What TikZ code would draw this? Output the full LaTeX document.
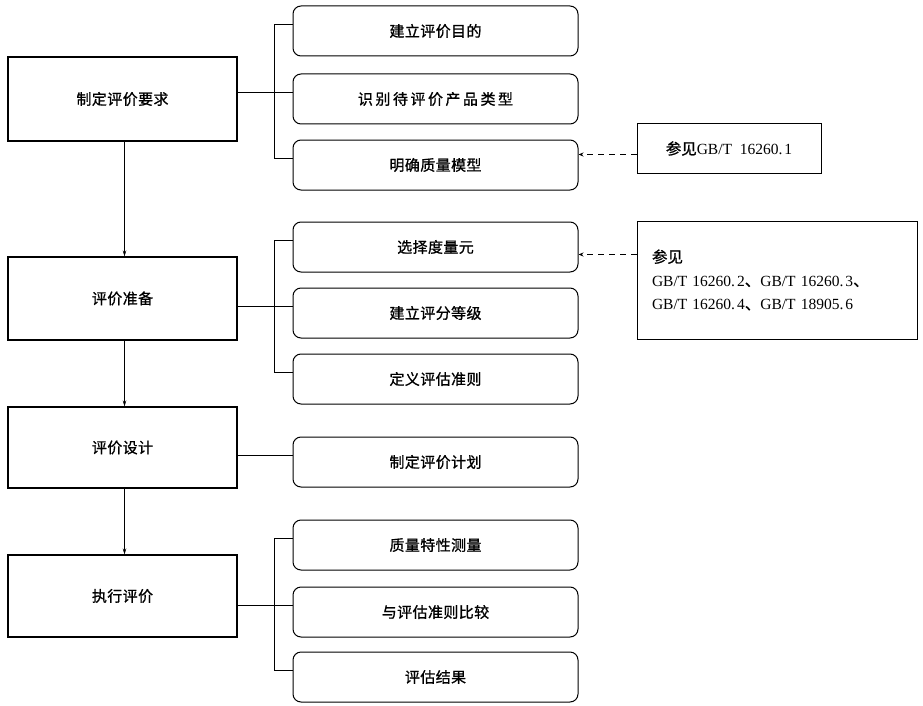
\documentclass[tikz,border=0pt]{standalone}
\usepackage{fontspec}
\setmainfont{Liberation Serif}[WordSpace=2]
\newfontfamily\cjk{Noto Sans CJK SC}[LetterSpace=2.7,FakeBold=1]
\newfontfamily\cjkwide{Noto Sans CJK SC}[LetterSpace=16.7,FakeBold=1]
\newfontfamily\cjkref{Noto Sans CJK SC}[FakeBold=1]
\usetikzlibrary{arrows.meta}
\begin{document}
\begin{tikzpicture}[x=1pt,y=-1pt,
  stage/.style={draw,line width=1.1pt,minimum width=229pt,inner sep=0pt,font=\cjk\fontsize{15}{18}\selectfont},
  task/.style={draw,line width=1pt,rounded corners=8pt,minimum width=285pt,minimum height=50pt,inner sep=0pt,font=\cjk\fontsize{15}{18}\selectfont},
  refbox/.style={draw,line width=1pt,inner sep=0pt,font=\fontsize{15.5}{23.5}\selectfont},
  link/.style={line width=0.9pt},
  flow/.style={line width=0.7pt,-{Stealth[length=6pt,width=3.5pt]}},
  refarr/.style={line width=0.9pt,dash pattern=on 6pt off 5pt,-{Stealth[length=5pt,width=4pt]}}]
\useasboundingbox (0,0) rectangle (923,706);

% stages
\node[stage,minimum height=84pt] (L1) at (122.5,99) {制定评价要求};
\node[stage,minimum height=83pt] (L2) at (122.5,298.5) {评价准备};
\node[stage,minimum height=81pt] (L3) at (122.5,447.5) {评价设计};
\node[stage,minimum height=82pt] (L4) at (122.5,596) {执行评价};

% tasks
\node[task] (R1) at (435.5,31) {建立评价目的};
\node[task,font=\cjkwide\fontsize{15}{18}\selectfont] (R2) at (435.5,99) {识别待评价产品类型};
\node[task] (R3) at (435.5,165) {明确质量模型};
\node[task] (R4) at (435.5,247) {选择度量元};
\node[task] (R5) at (435.5,313) {建立评分等级};
\node[task] (R6) at (435.5,379) {定义评估准则};
\node[task] (R7) at (435.5,462) {制定评价计划};
\node[task] (R8) at (435.5,545) {质量特性测量};
\node[task] (R9) at (435.5,612) {与评估准则比较};
\node[task] (R10) at (435.5,677) {评估结果};

% references
\node[refbox,minimum width=184pt,minimum height=49pt] (F1) at (729,148.5)
  {{\cjkref 参见}GB/T 16260.\kern2pt 1};
\node[refbox,minimum width=280pt,minimum height=118pt,text width=250pt,align=left] (F2) at (777,280)
  {{\cjkref 参见}\\
   GB/T 16260.\kern2pt 2{\cjkref 、}GB/T 16260.\kern2pt 3{\cjkref 、}\\
   GB/T 16260.\kern2pt 4{\cjkref 、}GB/T 18905.\kern2pt 6};

% bracket stubs
\coordinate (bx) at (274,0);
\foreach \r in {1,...,10}{
  \coordinate (s\r) at ([yshift=-19pt]R\r.north west);
}
\draw[link] (s1) -- (s1 -| bx) -- (s3 -| bx) -- (s3);
\draw[link] (s2 -| bx) -- (s2);
\draw[link] (L1.east |- s2) -- (s2 -| bx);

\draw[link] (s4) -- (s4 -| bx) -- (s6 -| bx) -- (s6);
\draw[link] (s5 -| bx) -- (s5);
\draw[link] (L2.east |- s5) -- (s5 -| bx);

\draw[link] (L3.east |- s7) -- (s7);

\draw[link] (s8) -- (s8 -| bx) -- (s10 -| bx) -- (s10);
\draw[link] (s9 -| bx) -- (s9);
\draw[link] (L4.east |- s9) -- (s9 -| bx);

% flow arrows
\draw[flow] ([xshift=2pt]L1.south) -- ([xshift=2pt]L2.north);
\draw[flow] ([xshift=2pt]L2.south) -- ([xshift=2pt]L3.north);
\draw[flow] ([xshift=2pt]L3.south) -- ([xshift=2pt]L4.north);

% reference arrows
\coordinate (d1) at ([yshift=-31pt]F1.north west);
\coordinate (d2) at ([yshift=-34pt]F2.north west);
\draw[refarr] (d1) -- (d1 -| R3.east);
\draw[refarr] (d2) -- (d2 -| R4.east);
\end{tikzpicture}
\end{document}
